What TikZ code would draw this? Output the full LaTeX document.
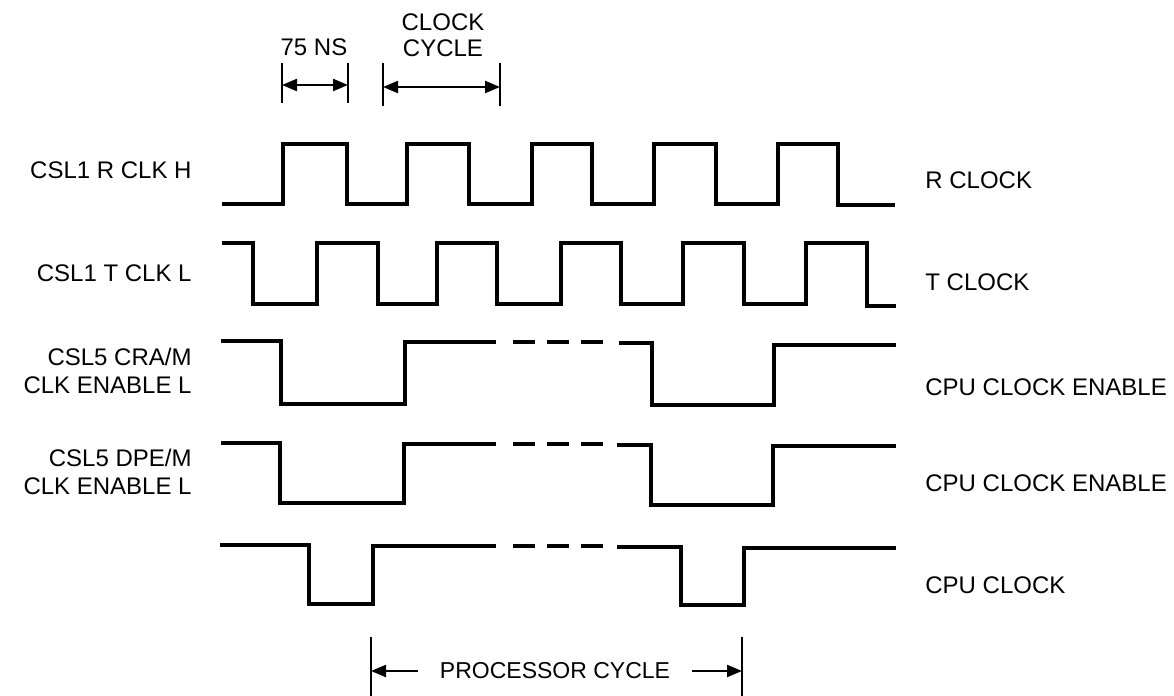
\documentclass[tikz,border=0pt]{standalone}
\usepackage{fontspec}
\setmainfont{Liberation Sans}
\usetikzlibrary{arrows.meta}
\tikzset{
  wave/.style={line width=1.6pt, line join=miter},
  skipdash/.style={wave, dash pattern=on 11pt off 6pt},
  tick/.style={line width=1.4pt},
  dim/.style={line width=1.1pt, {Triangle[length=7.5pt,width=6pt]}-{Triangle[length=7.5pt,width=6pt]}},
  tip/.style={line width=1.1pt, -{Triangle[length=7.5pt,width=6pt]}},
  lbl/.style={font=\fontsize{12}{14}\selectfont, inner sep=0pt},
}

\begin{document}
\begin{tikzpicture}[x=0.5pt, y=-0.5pt]
\useasboundingbox (0,0) rectangle (1174,696);

% signal names, left
\node[lbl, anchor=east, align=right] (rclkh) at (192,170) {CSL1 R CLK H};
\node[lbl, anchor=east, align=right] (tclkl) at (192,273) {CSL1 T CLK L};
\node[lbl, anchor=east, align=right] (cram)  at (192,371) {CSL5 CRA/M\\CLK ENABLE L};
\node[lbl, anchor=east, align=right] (dpem)  at (192,472) {CSL5 DPE/M\\CLK ENABLE L};

% signal names, right
\node[lbl, anchor=west] (rclock)  at (925,180) {R CLOCK};
\node[lbl, anchor=west] (tclock)  at (925,282) {T CLOCK};
\node[lbl, anchor=west] (enable1) at (925,387) {CPU CLOCK ENABLE};
\node[lbl, anchor=west] (enable2) at (925,483) {CPU CLOCK ENABLE};
\node[lbl, anchor=west] (cpuclk)  at (925,585) {CPU CLOCK};

% waveforms
\draw[wave] (222,204) -- (283,204) |- (347,144) |- (407,204) |- (469,144) |- (532,204)
  |- (592,144) |- (654,204) |- (716,144) |- (778,204) |- (838,144) |- (895,205);
\draw[wave] (222,243) -- (253,243) |- (317,304) |- (378,243) |- (437,304) |- (497,243)
  |- (561,304) |- (621,243) |- (683,304) |- (744,243) |- (806,304) |- (867,243) |- (896,306);

\draw[wave] (221,341) -- (281,341) |- (405,404) -- (405,342) -- (496,342);
\draw[skipdash] (513,342) -- (604,342);
\draw[wave] (619,343) -- (652,343) |- (774,405) |- (896,345);

\draw[wave] (221,443) -- (280,443) |- (404,503) -- (404,444) -- (496,444);
\draw[skipdash] (513,444) -- (604,444);
\draw[wave] (617,445) -- (651,445) |- (773,505) |- (896,446);

\draw[wave] (220,545) -- (309,545) |- (373,604) -- (373,546) -- (496,546);
\draw[skipdash] (513,546) -- (604,546);
\draw[wave] (617,547) -- (681,547) |- (744,605) |- (896,548);

% timing marks, top
\node[lbl] (ns) at (314,47) {75 NS};
\node[lbl, align=center, font=\fontsize{12}{13}\selectfont] (cyc) at (443,35) {CLOCK\\CYCLE};
\draw[tick] (282,63) -- (282,103);
\draw[tick] (348,63) -- (348,103);
\coordinate (nsL) at (282,85);
\coordinate (nsR) at (348,85);
\draw[dim] (nsL) -- (nsR);
\draw[tick] (383,63) -- (383,106);
\draw[tick] (500,63) -- (500,106);
\coordinate (cycL) at (383,87);
\coordinate (cycR) at (500,87);
\draw[dim] (cycL) -- (cycR);

% processor cycle
\node[lbl, font=\fontsize{11.5}{14}\selectfont, inner xsep=11pt] (proc) at (555,671) {PROCESSOR CYCLE};
\draw[tick] (371,637) -- (371,696);
\draw[tick] (742,637) -- (742,696);
\coordinate (procL) at (371,671);
\coordinate (procR) at (742,671);
\draw[tip] (proc.west) -- (procL);
\draw[tip] (proc.east) -- (procR);
\end{tikzpicture}
\end{document}
